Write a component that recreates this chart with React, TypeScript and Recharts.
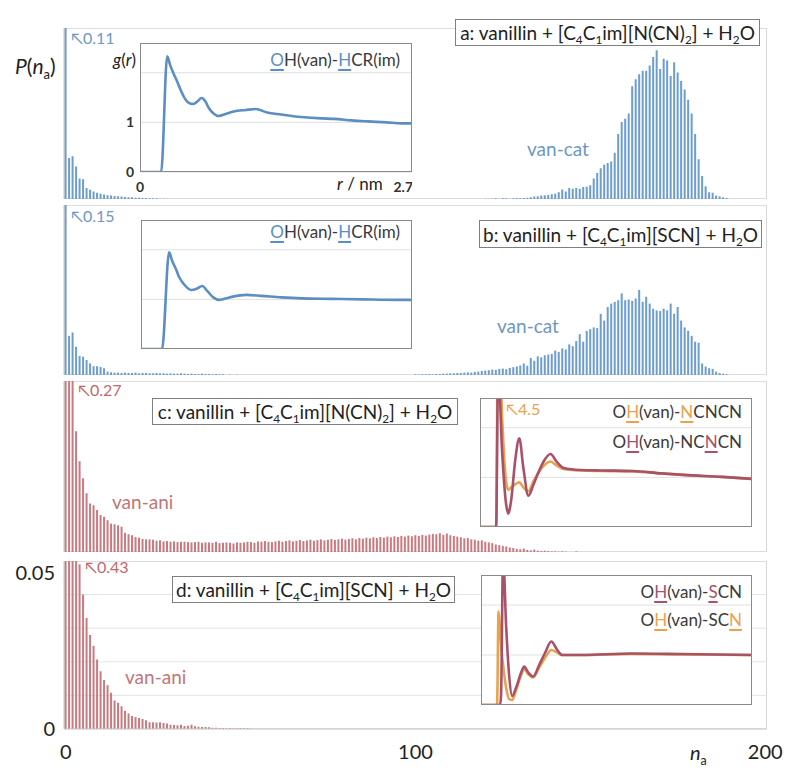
import React from "react";
import { BarChart, Bar, XAxis, YAxis, CartesianGrid, LineChart, Line } from "recharts";

// ---- histogram data: P(n_a) per coordination number n_a ----
const naCategories = Array.from({ length: 201 }, (_, i) => i);

// a: van-cat, [C4C1im][N(CN)2]
const catALow = [
  0.11, 0.012, 0.0125, 0.0095, 0.006, 0.0058, 0.0032, 0.0027, 0.0022, 0.0018,
  0.0015, 0.0013, 0.0011, 0.001, 0.0009, 0.0008, 0.0007, 0.0006, 0.0005, 0.0005,
  0.0004, 0.0004, 0.0003, 0.0003, 0.0002, 0.0002, 0.0002, 0.0001, 0.0001, 0.0001,
];
const catAHighStart = 120;
const catAHigh = [
  0.0001, 0.0001, 0.0001, 0.0002, 0.0001, 0.0002, 0.0002, 0.0001, 0.0002, 0.0002,
  0.0002, 0.0003, 0.0004, 0.0005, 0.0007, 0.0008, 0.001, 0.0011, 0.0012, 0.0014,
  0.0015, 0.002, 0.0028, 0.0022, 0.0032, 0.003, 0.0032, 0.003, 0.0035, 0.0036,
  0.004, 0.006, 0.0076, 0.009, 0.01, 0.0105, 0.011, 0.0135, 0.019, 0.0225,
  0.0235, 0.025, 0.033, 0.035, 0.0365, 0.0375, 0.0375, 0.039, 0.0415, 0.0435,
  0.038, 0.041, 0.0405, 0.036, 0.04, 0.037, 0.0345, 0.032, 0.029, 0.025,
  0.019, 0.0116, 0.0067, 0.0037, 0.002, 0.0018, 0.001, 0.0008, 0.0005, 0.0003,
];

// b: van-cat, [C4C1im][SCN]
const catBLow = [
  0.15, 0.0115, 0.0125, 0.0083, 0.0056, 0.0054, 0.0044, 0.0034, 0.0026, 0.0026,
  0.0024, 0.002, 0.001, 0.0008, 0.0007, 0.0007, 0.0006, 0.0007, 0.0006, 0.0006,
  0.0007, 0.0005, 0.0006, 0.0006, 0.0005, 0.0005, 0.0006, 0.0005, 0.0005, 0.0004,
  0.0005, 0.0004, 0.0004, 0.0005, 0.0004, 0.0003, 0.0004, 0.0003, 0.0003, 0.0004,
  0.0003, 0.0003, 0.0002, 0.0003, 0.0002, 0.0002, 0, 0.0001, 0, 0.0001,
];
const catBHighStart = 100;
const catBHigh = [
  0.0002, 0.0001, 0.0002, 0.0002, 0.0003, 0.0002, 0.0003, 0.0003, 0.0004, 0.0004,
  0.0005, 0.0005, 0.0006, 0.0006, 0.0007, 0.0008, 0.0007, 0.0009, 0.001, 0.0012,
  0.0013, 0.0014, 0.0016, 0.0015, 0.0018, 0.0019, 0.0017, 0.0021, 0.0023, 0.0025,
  0.0028, 0.0034, 0.0027, 0.005, 0.0042, 0.0055, 0.0052, 0.0058, 0.006, 0.0062,
  0.0072, 0.0068, 0.0078, 0.0075, 0.009, 0.0085, 0.01, 0.012, 0.0098, 0.013,
  0.0135, 0.014, 0.0138, 0.018, 0.016, 0.02, 0.021, 0.0215, 0.022, 0.024,
  0.022, 0.0222, 0.0218, 0.0225, 0.025, 0.0215, 0.023, 0.021, 0.0195, 0.019,
  0.0188, 0.0195, 0.019, 0.021, 0.018, 0.02, 0.016, 0.014, 0.013, 0.0115,
  0.0098, 0.0095, 0.0034, 0.0025, 0.002, 0.0018, 0.001, 0.0006, 0.0004, 0.0002,
];

// c: van-ani, [C4C1im][N(CN)2]
const aniC = [
  0.27, 0.09, 0.055, 0.0353, 0.0265, 0.0216, 0.0172, 0.0142, 0.0137, 0.0123,
  0.0108, 0.0103, 0.0093, 0.0083, 0.0081, 0.0078, 0.0074, 0.0056, 0.0052, 0.0049,
  0.0044, 0.0042, 0.0038, 0.0037, 0.0037, 0.0036, 0.0033, 0.0034, 0.0031, 0.0032,
  0.003, 0.0031, 0.0029, 0.003, 0.003, 0.0029, 0.0028, 0.0029, 0.003, 0.0027,
  0.0028, 0.0028, 0.0027, 0.003, 0.0026, 0.0027, 0.0028, 0.0027, 0.0025, 0.0028,
  0.0027, 0.0028, 0.003, 0.0029, 0.0027, 0.0031, 0.003, 0.0032, 0.003, 0.0029,
  0.0031, 0.0033, 0.003, 0.0032, 0.0034, 0.0031, 0.0033, 0.0035, 0.0032, 0.0034,
  0.0036, 0.0033, 0.0035, 0.0037, 0.0034, 0.0036, 0.0038, 0.0035, 0.0037, 0.0039,
  0.0036, 0.0038, 0.004, 0.0037, 0.0041, 0.0039, 0.0042, 0.004, 0.0043, 0.0041,
  0.0044, 0.0042, 0.0045, 0.0043, 0.0046, 0.0044, 0.0047, 0.0045, 0.0048, 0.0046,
  0.0049, 0.0047, 0.005, 0.0048, 0.0051, 0.0053, 0.0052, 0.0055, 0.005, 0.0054,
  0.0049, 0.0047, 0.0045, 0.0043, 0.004, 0.0041, 0.0037, 0.0036, 0.0033, 0.0034,
  0.003, 0.0028, 0.0026, 0.0022, 0.002, 0.0018, 0.0016, 0.0013, 0.0012, 0.0009,
  0.0008, 0.001, 0.0006, 0.0005, 0.0007, 0.0004, 0.0003, 0.0004, 0.0003, 0.0002,
  0.0002, 0.0001, 0.0002, 0.0001, 0, 0, 0.0002,
];

// d: van-ani, [C4C1im][SCN]
const aniD = [
  0.43, 0.08, 0.065, 0.055, 0.049, 0.04, 0.033, 0.028, 0.0248, 0.0207,
  0.0172, 0.0146, 0.013, 0.0108, 0.0085, 0.0078, 0.0068, 0.0054, 0.0046, 0.0039,
  0.0036, 0.0033, 0.003, 0.0026, 0.002, 0.002, 0.0019, 0.002, 0.0018, 0.0016,
  0.0013, 0.0012, 0.0011, 0.0013, 0.0009, 0.001, 0.0013, 0.0008, 0.0007, 0.0006,
  0.0006, 0.0005, 0.0004, 0.0004, 0.0003, 0.0003, 0.0002, 0.0003, 0.0002, 0.0002,
  0.0003, 0.0002, 0.0002, 0.0001,
];

// ---- inset g(r) data ----
const rA = [0, 0.21, 0.27, 0.3, 0.33, 0.37, 0.4, 0.44, 0.48, 0.53, 0.57, 0.61, 0.65, 0.68, 0.73, 0.78, 0.85, 0.93, 1.05, 1.15, 1.26, 1.4, 1.6, 1.8, 1.93, 2.1, 2.26, 2.45, 2.6, 2.7];
const gA = [0, 0, 2.33, 2.15, 2.0, 1.82, 1.67, 1.5, 1.4, 1.37, 1.42, 1.49, 1.42, 1.3, 1.18, 1.13, 1.17, 1.22, 1.25, 1.27, 1.2, 1.16, 1.11, 1.08, 1.07, 1.04, 1.02, 1.0, 0.98, 0.98];

const rB = [0, 0.21, 0.28, 0.31, 0.35, 0.38, 0.43, 0.5, 0.55, 0.61, 0.66, 0.72, 0.78, 0.88, 1.05, 1.2, 1.4, 1.6, 1.9, 2.2, 2.56, 2.7];
const gB = [0, 0, 1.95, 1.78, 1.6, 1.45, 1.3, 1.19, 1.21, 1.27, 1.17, 1.04, 0.99, 1.04, 1.09, 1.07, 1.04, 1.02, 1.01, 1.0, 0.99, 0.99];

const rC = [0, 0.16, 0.18, 0.22, 0.26, 0.28, 0.31, 0.35, 0.39, 0.43, 0.48, 0.53, 0.58, 0.64, 0.7, 0.76, 0.83, 1.0, 1.2, 1.52, 1.8, 2.02, 2.4, 2.7];
const gCcentral = [0, 0, 3.2, 1.5, 0.45, 0.27, 0.55, 1.35, 1.79, 1.2, 0.63, 0.85, 1.1, 1.35, 1.47, 1.32, 1.19, 1.15, 1.14, 1.13, 1.08, 1.05, 1.01, 0.97];
const gCterminal = [0, 0, 4.5, 2.2, 0.9, 0.75, 0.8, 0.86, 0.9, 0.8, 0.72, 0.92, 1.1, 1.25, 1.32, 1.24, 1.17, 1.14, 1.13, 1.12, 1.08, 1.05, 1.01, 0.97];

const rD = [0, 0.16, 0.175, 0.19, 0.2, 0.22, 0.25, 0.28, 0.31, 0.35, 0.4, 0.43, 0.47, 0.52, 0.58, 0.64, 0.7, 0.76, 0.81, 1.0, 1.5, 2.0, 2.7];
const gDsulfur = [0, 0, 0, 0, 0.2, 3.0, 1.6, 0.6, 0.18, 0.35, 0.65, 0.77, 0.65, 0.57, 0.8, 1.05, 1.27, 1.1, 1.0, 1.0, 1.03, 1.02, 1.0];
const gDnitrogen = [0, 0, 1.87, 1.5, 1.2, 0.8, 0.35, 0.12, 0.1, 0.3, 0.6, 0.72, 0.62, 0.55, 0.75, 0.95, 1.1, 1.05, 1.0, 1.0, 1.02, 1.01, 1.0];

const BLUE = "#6c9dcd";
const RED = "#c97a80";
const LINE_BLUE = "#5b8ec2";
const DARK_RED = "#a8526a";
const ORANGE = "#eba24c";

function histogramRows(low: number[], highStart = 999, high: number[] = []) {
  return naCategories.map((n) => {
    let p = 0;
    if (n < low.length) p = low[n];
    else if (n >= highStart && n - highStart < high.length) p = high[n - highStart];
    return { n, p };
  });
}

function Histogram({ rows, color, top, height, showAxis }: any) {
  const chartH = height + (showAxis ? 40 : 0);
  return (
    <>
      <div style={{ position: "absolute", left: 64, top, width: 703, height, border: "1px solid #d6d6d6", boxSizing: "border-box" }} />
      <div style={{ position: "absolute", left: 0, top, width: 800, height: chartH }}>
        <BarChart width={800} height={chartH} data={rows} margin={{ top: 0, right: 33, bottom: 0, left: 0 }} barCategoryGap="17%">
          <CartesianGrid vertical={false} stroke="#e3e3e3" />
          <XAxis
            dataKey="n"
            type="category"
            hide={!showAxis}
            interval={0}
            height={40}
            tickLine={false}
            axisLine={{ stroke: "#d0d0d0" }}
            tickMargin={10}
            tick={{ fontSize: 20, fill: "#222" }}
            tickFormatter={(v: number) => (v % 100 === 0 ? String(v) : "")}
          />
          <YAxis
            width={64}
            domain={[0, 0.05]}
            allowDataOverflow
            ticks={[0, 0.01, 0.02, 0.03, 0.04, 0.05]}
            axisLine={{ stroke: "#c4c4c4" }}
            tickLine={false}
            tickSize={0}
            tickMargin={9}
            tick={showAxis ? { fontSize: 20, fill: "#222" } : false}
            tickFormatter={(v: number) => (v === 0 ? "0" : v === 0.05 ? "0.05" : "")}
          />
          <Bar dataKey="p" fill={color} isAnimationActive={false} />
        </BarChart>
      </div>
    </>
  );
}

function Inset({ left, top, width, height, rows, series, showAxes }: any) {
  const yW = showAxes ? 30 : 0;
  const xH = showAxes ? 26 : 0;
  return (
    <>
      <div style={{ position: "absolute", left: left - yW, top, width: width + yW, height: height + xH }}>
        <LineChart width={width + yW} height={height + xH} data={rows} margin={{ top: 0, right: 0, bottom: 0, left: 0 }}>
          <CartesianGrid vertical={false} stroke="#e0e0e0" fill="#fff" fillOpacity={1} />
          <XAxis
            dataKey="r"
            type="number"
            domain={[0, 2.7]}
            ticks={[0, 2.7]}
            hide={!showAxes}
            height={xH || 1}
            axisLine={false}
            tickLine={false}
            tickMargin={4}
            tick={{ fontSize: 14, fontWeight: 700, fill: "#333" }}
          />
          <YAxis
            domain={[0, 2.6]}
            allowDataOverflow
            ticks={[0, 1, 2]}
            hide={!showAxes}
            width={yW || 1}
            axisLine={false}
            tickLine={false}
            tickSize={0}
            tickMargin={6}
            tick={{ fontSize: 14, fontWeight: 700, fill: "#333" }}
            tickFormatter={(v: number) => (v === 2 ? "" : String(v))}
          />
          {series.map((s: any) => (
            <Line key={s.key} dataKey={s.key} type="monotone" stroke={s.color} strokeWidth={2.6} dot={false} isAnimationActive={false} />
          ))}
        </LineChart>
      </div>
      <div style={{ position: "absolute", left, top, width, height, border: "1px solid #8a8a8a", boxSizing: "border-box", pointerEvents: "none" }} />
    </>
  );
}

const Sub = ({ children }: any) => (
  <span style={{ fontSize: "0.62em", position: "relative", top: "0.38em", lineHeight: 0 }}>{children}</span>
);

const Mark = ({ children, color }: any) => (
  <span style={{ color, textDecoration: "underline", textDecorationColor: color, textDecorationThickness: 2, textUnderlineOffset: 3 }}>{children}</span>
);

function TitleBox({ left, top, width, height, children }: any) {
  return (
    <div style={{ position: "absolute", left, top, width, height, border: "1px solid #7f7f7f", background: "#fff", boxSizing: "border-box", display: "flex", alignItems: "center", justifyContent: "center", fontSize: 19, color: "#222", whiteSpace: "nowrap" }}>
      <span>{children}</span>
    </div>
  );
}

function Text({ left, top, right, size, color, children, style }: any) {
  return (
    <div style={{ position: "absolute", left, top, right, fontSize: size, color, lineHeight: 1.2, whiteSpace: "nowrap", ...style }}>
      {children}
    </div>
  );
}

export default function App() {
  const rowsA = histogramRows(catALow, catAHighStart, catAHigh);
  const rowsB = histogramRows(catBLow, catBHighStart, catBHigh);
  const rowsC = histogramRows(aniC);
  const rowsD = histogramRows(aniD);

  const insetA = rA.map((r, i) => ({ r, g: gA[i] }));
  const insetB = rB.map((r, i) => ({ r, g: gB[i] }));
  const insetC = rC.map((r, i) => ({ r, term: gCterminal[i], cent: gCcentral[i] }));
  const insetD = rD.map((r, i) => ({ r, n: gDnitrogen[i], s: gDsulfur[i] }));

  return (
    <div style={{ position: "absolute", left: 0, top: 0, width: 800, height: 773, background: "#fff", fontFamily: "Lato, 'Open Sans', sans-serif", overflow: "hidden" }}>
      <Histogram rows={rowsA} color={BLUE} top={28} height={171} />
      <Histogram rows={rowsB} color={BLUE} top={205} height={170} />
      <Histogram rows={rowsC} color={RED} top={381} height={171} />
      <Histogram rows={rowsD} color={RED} top={561} height={168} showAxis />

      <Inset left={140} top={43} width={272} height={129} rows={insetA} series={[{ key: "g", color: LINE_BLUE }]} showAxes />
      <Inset left={141} top={220} width={271} height={129} rows={insetB} series={[{ key: "g", color: LINE_BLUE }]} />
      <Inset left={480} top={398} width={272} height={129} rows={insetC} series={[{ key: "term", color: ORANGE }, { key: "cent", color: DARK_RED }]} />
      <Inset left={481} top={575} width={271} height={130} rows={insetD} series={[{ key: "n", color: ORANGE }, { key: "s", color: DARK_RED }]} />

      <TitleBox left={455} top={19} width={305} height={27}>
        a: vanillin + [C<Sub>4</Sub>C<Sub>1</Sub>im][N(CN)<Sub>2</Sub>] + H<Sub>2</Sub>O
      </TitleBox>
      <TitleBox left={479} top={220} width={283} height={28}>
        b: vanillin + [C<Sub>4</Sub>C<Sub>1</Sub>im][SCN] + H<Sub>2</Sub>O
      </TitleBox>
      <TitleBox left={152} top={398} width={306} height={27}>
        c: vanillin + [C<Sub>4</Sub>C<Sub>1</Sub>im][N(CN)<Sub>2</Sub>] + H<Sub>2</Sub>O
      </TitleBox>
      <TitleBox left={172} top={576} width={283} height={27}>
        d: vanillin + [C<Sub>4</Sub>C<Sub>1</Sub>im][SCN] + H<Sub>2</Sub>O
      </TitleBox>

      <Text left={15} top={53} size={21} color="#222">
        <i>P</i>(<i>n</i><Sub>a</Sub>)
      </Text>
      <Text left={690} top={740} size={20} color="#222">
        <i>n</i><Sub>a</Sub>
      </Text>

      <Text left={71} top={28} size={16} color="#6f97c2">↖0.11</Text>
      <Text left={71} top={206} size={16} color="#6f97c2">↖0.15</Text>
      <Text left={78} top={380} size={16} color="#c0676d">↖0.27</Text>
      <Text left={85} top={557} size={16} color="#c0676d">↖0.43</Text>
      <Text left={506} top={399} size={16} color={ORANGE}>↖4.5</Text>

      <Text left={527} top={138} size={19} color="#6f97c2">van-cat</Text>
      <Text left={497} top={315} size={19} color="#6f97c2">van-cat</Text>
      <Text left={112} top={491} size={19} color="#c0767a">van-ani</Text>
      <Text left={125} top={666} size={19} color="#c0767a">van-ani</Text>

      <Text left={113} top={50} size={17} color="#222">
        <i>g</i>(<i>r</i>)
      </Text>
      <Text left={337} top={174} size={17} color="#222">
        <i>r</i> / nm
      </Text>

      <Text right={400} top={50} size={17} color="#3a3a3a">
        <Mark color={LINE_BLUE}>O</Mark>H(van)-<Mark color={LINE_BLUE}>H</Mark>CR(im)
      </Text>
      <Text right={400} top={222} size={17} color="#3a3a3a">
        <Mark color={LINE_BLUE}>O</Mark>H(van)-<Mark color={LINE_BLUE}>H</Mark>CR(im)
      </Text>

      <Text right={58} top={402} size={17} color="#3a3a3a">
        O<Mark color={ORANGE}>H</Mark>(van)-<Mark color={ORANGE}>N</Mark>CNCN
      </Text>
      <Text right={58} top={432} size={17} color="#3a3a3a">
        O<Mark color={DARK_RED}>H</Mark>(van)-NC<Mark color={DARK_RED}>N</Mark>CN
      </Text>
      <Text right={58} top={582} size={17} color="#3a3a3a">
        O<Mark color={DARK_RED}>H</Mark>(van)-<Mark color={DARK_RED}>S</Mark>CN
      </Text>
      <Text right={58} top={610} size={17} color="#3a3a3a">
        O<Mark color={ORANGE}>H</Mark>(van)-SC<Mark color={ORANGE}>N</Mark>
      </Text>
    </div>
  );
}
